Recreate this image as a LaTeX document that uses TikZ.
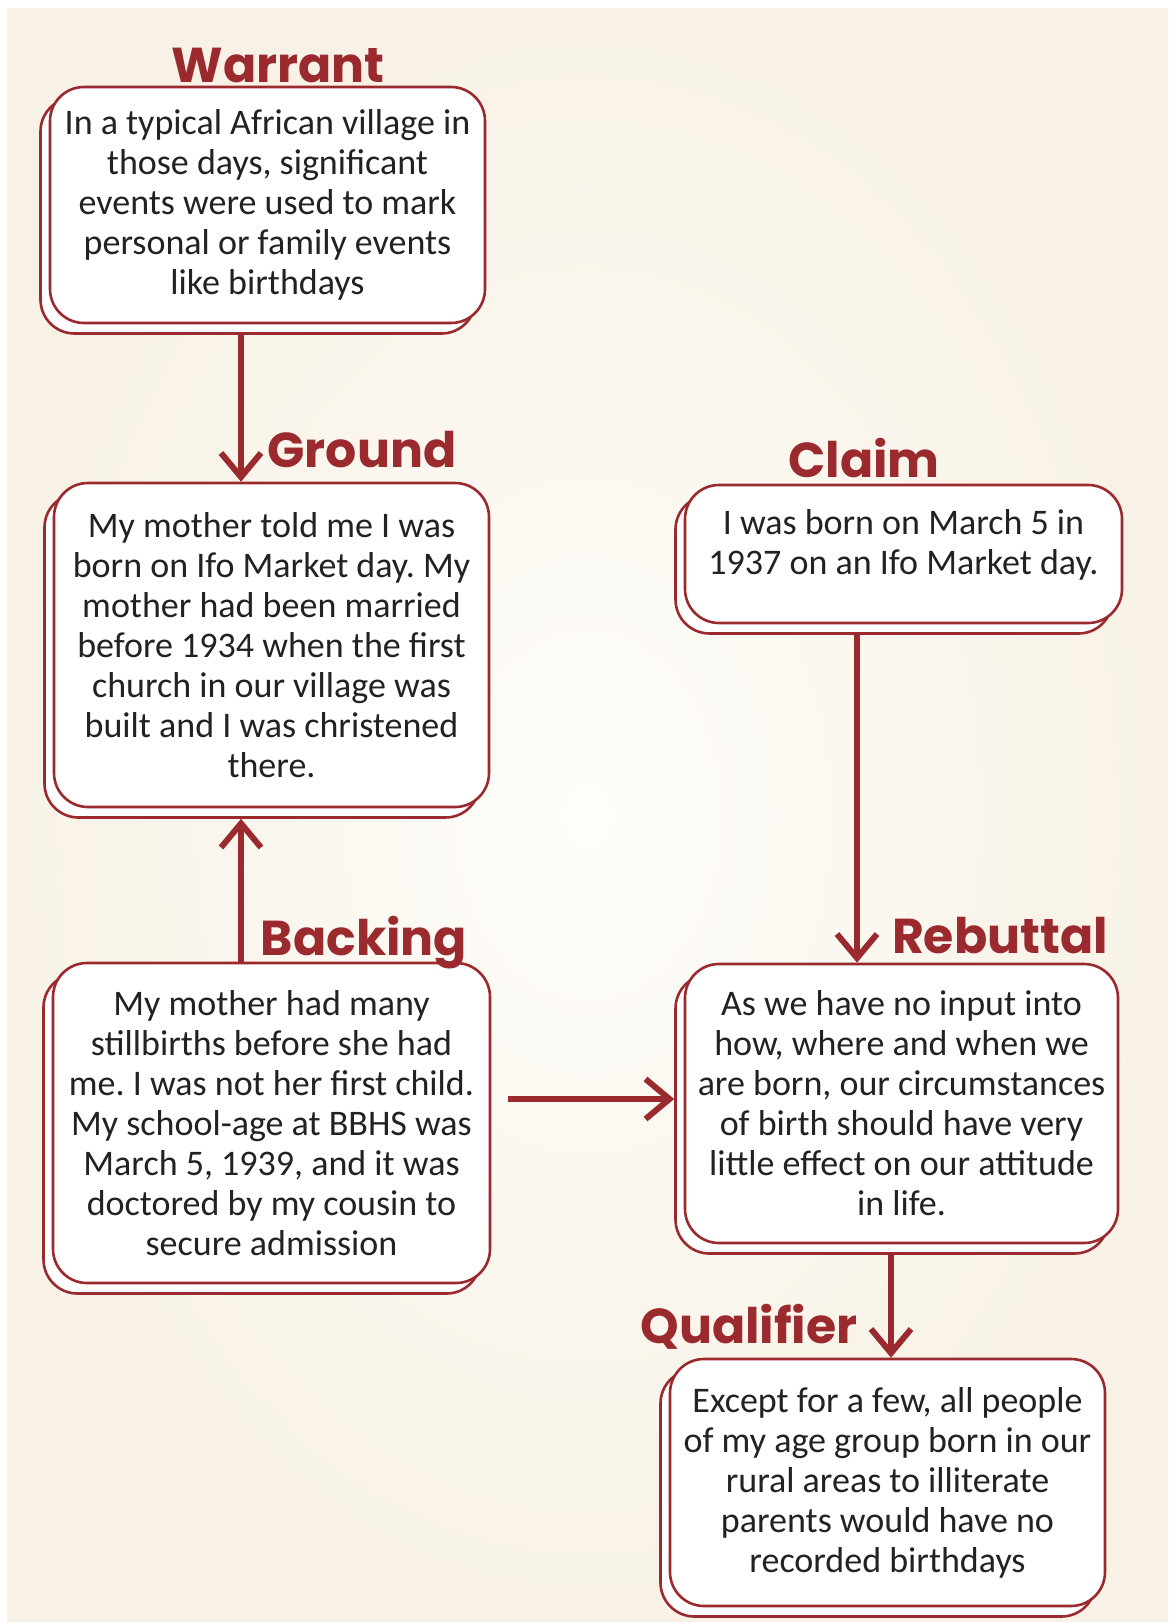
\documentclass[tikz,border=0pt]{standalone}
\usepackage{fontspec}
\setmainfont{Carlito}
\newfontfamily\headfont{Poppins}
\usetikzlibrary{arrows.meta,shadows,calc}

\definecolor{brick}{RGB}{154,42,46}
\definecolor{ink}{RGB}{34,34,34}
\definecolor{paperin}{RGB}{254,253,250}
\definecolor{paperout}{RGB}{248,242,230}

\tikzset{
  card/.style={draw=brick, line width=2.6pt, fill=white, rounded corners=34pt,
    align=center, text=ink, font=\fontsize{36}{40}\selectfont, inner sep=0pt,
    anchor=center,
    copy shadow={shadow xshift=-9.5pt, shadow yshift=-10.5pt}},
  heading/.style={text=brick, font=\headfont\bfseries\fontsize{49}{56}\selectfont,
    anchor=base, inner sep=0pt},
  link/.style={draw=brick, line width=6pt,
    -{Straight Barb[length=24pt,width=40pt,line width=6pt]}},
}

\begin{document}
\frenchspacing
\begin{tikzpicture}[x=1pt, y=-1pt]
  \useasboundingbox (0,0) rectangle (1168,1622);
  % paper
  \fill[white] (0,0) rectangle (1168,1622);
  \shade[inner color=paperin, outer color=paperout] (7,8) rectangle (1168,1622);

  % cards
  \node[card, minimum width=435pt, minimum height=236pt] (warrant) at (267.5,205)
    {In a typical African village in\\ those days, significant\\ events were used to mark\\ personal or family events\\ like birthdays};
  \node[card, minimum width=435pt, minimum height=324pt] (ground) at (271.5,645)
    {My mother told me I was\\ born on Ifo Market day. My\\ mother had been married\\ before 1934 when the first\\ church in our village was\\ built and I was christened\\ there.};
  \node[card, minimum width=437pt, minimum height=320pt] (backing) at (271.5,1123)
    {My mother had many\\ stillbirths before she had\\ me. I was not her first child.\\ My school-age at BBHS was\\ March 5, 1939, and it was\\ doctored by my cousin to\\ secure admission};
  \node[card, minimum width=437pt, minimum height=138pt] (claim) at (903.5,554)
    {I was born on March 5 in\\ 1937 on an Ifo Market day.\\[-16pt]\mbox{}};
  \node[card, minimum width=433pt, minimum height=279pt] (rebuttal) at (901.5,1103.5)
    {As we have no input into\\ how, where and when we\\ are born, our circumstances\\ of birth should have very\\ little effect on our attitude\\ in life.};
  \node[card, minimum width=435pt, minimum height=247pt] (qualifier) at (887.5,1482.5)
    {Except for a few, all people\\ of my age group born in our\\ rural areas to illiterate\\ parents would have no\\ recorded birthdays};

  % headings
  \node[heading] (warrant-h)   at (278,82)   {Warrant};
  \node[heading] (ground-h)    at (362,467)  {Ground};
  \node[heading] (claim-h)     at (864,477)  {Claim};
  \node[heading] (backing-h)   at (364,955)  {Backing};
  \node[heading] (rebuttal-h)  at (1000,953) {Rebuttal};
  \node[heading] (qualifier-h) at (749,1343) {Qualifier};

  % connectors
  \coordinate (w-out) at ([shift={(-26.5,10.5)}]warrant.south);
  \draw[link] (w-out) -- (w-out |- ground.north);

  \coordinate (g-back) at ([shift={(0,10.5)}]ground.south);
  \draw[link] (w-out |- backing.north) -- (w-out |- g-back);

  \coordinate (b-out) at ([shift={(17,-24)}]backing.east);
  \coordinate (r-back) at ([shift={(-9.5,0)}]rebuttal.west);
  \draw[link] (b-out) -- (b-out -| r-back);

  \coordinate (c-out) at ([shift={(-46.5,10.5)}]claim.south);
  \draw[link] (c-out) -- (c-out |- rebuttal.north);

  \coordinate (r-out) at ([shift={(-10.5,10.5)}]rebuttal.south);
  \draw[link] (r-out) -- (r-out |- qualifier.north);
\end{tikzpicture}
\end{document}
